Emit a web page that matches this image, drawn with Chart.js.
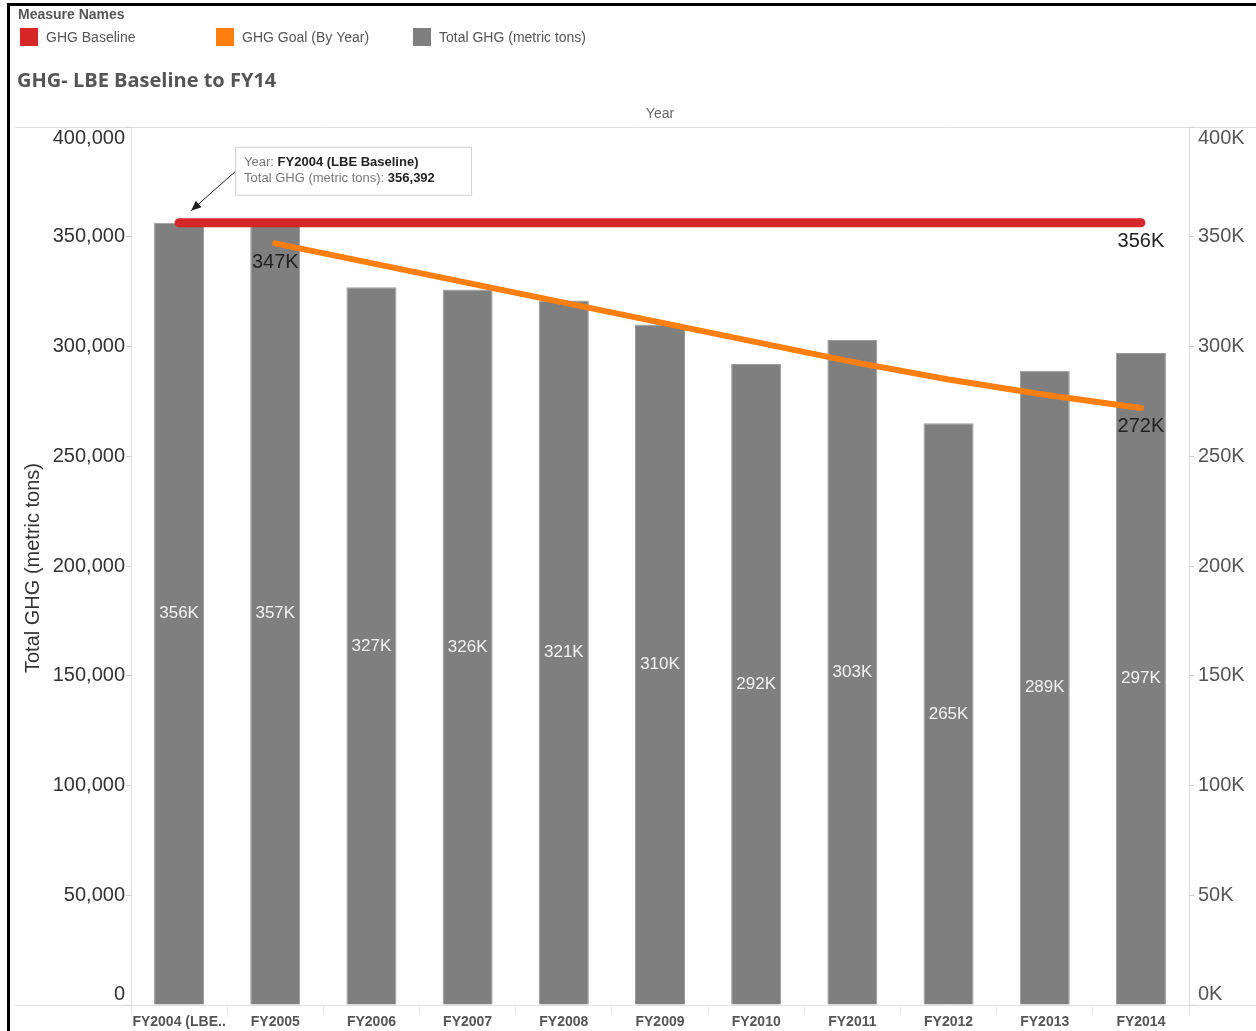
<!DOCTYPE html>
<html>
<head>
<meta charset="utf-8">
<title>GHG- LBE Baseline to FY14</title>
<script src="https://cdn.jsdelivr.net/npm/chart.js@4.4.1/dist/chart.umd.min.js"></script>
<style>
  html, body { margin: 0; padding: 0; background: #fff; }
  #wrap { width: 1256px; height: 1031px; position: relative; }
</style>
</head>
<body>
<div id="wrap"><canvas id="ghgChart" width="1256" height="1031"></canvas></div>
<script>
// data
const categories = ['FY2004 (LBE Baseline)', 'FY2005', 'FY2006', 'FY2007', 'FY2008', 'FY2009',
                    'FY2010', 'FY2011', 'FY2012', 'FY2013', 'FY2014'];
const tickLabels = ['FY2004 (LBE..', 'FY2005', 'FY2006', 'FY2007', 'FY2008', 'FY2009',
                    'FY2010', 'FY2011', 'FY2012', 'FY2013', 'FY2014'];
const totalGhg = [356392, 357000, 327000, 326000, 321000, 310000, 292000, 303000, 265000, 289000, 297000];
const ghgBaseline = [356392, 356392, 356392, 356392, 356392, 356392, 356392, 356392, 356392, 356392, 356392];
const ghgGoal = [null, 347000, 338000, 329000, 320000, 311000, 302000, 293000, 285000, 278000, 272000];
const yTicks = [0, 50000, 100000, 150000, 200000, 250000, 300000, 350000, 400000];
const legendNames = ['GHG Baseline', 'GHG Goal (By Year)', 'Total GHG (metric tons)'];

const RED = '#d62728';
const ORANGE = '#ff7f0e';
const GRAY = '#7f7f7f';
const LINE = '#dedede';
const SANS = '"Liberation Sans", Arial, sans-serif';

const fmtK = v => Math.round(v / 1000) + 'K';
const fmtFull = v => v.toLocaleString('en-US');
const clampY = (py, a) => Math.min(Math.max(py, a.top + 11), a.bottom - 11);

const decorations = {
    id: 'decorations',
    beforeDraw(chart) {
        const ctx = chart.ctx;
        const a = chart.chartArea;
        ctx.save();
        ctx.fillStyle = '#fff';
        ctx.fillRect(0, 0, chart.width, chart.height);

        // frame lines
        ctx.strokeStyle = LINE;
        ctx.lineWidth = 1;
        ctx.beginPath();
        ctx.moveTo(15, a.top + 0.5); ctx.lineTo(chart.width, a.top + 0.5);
        ctx.moveTo(15, a.bottom + 0.5); ctx.lineTo(chart.width, a.bottom + 0.5);
        ctx.moveTo(a.left + 0.5, a.top); ctx.lineTo(a.left + 0.5, a.bottom + 8);
        ctx.moveTo(a.right + 0.5, a.top); ctx.lineTo(a.right + 0.5, a.bottom + 10);
        ctx.stroke();

        // black outer border (top + left)
        ctx.fillStyle = '#000';
        ctx.fillRect(7, 3, chart.width - 7, 3);
        ctx.fillRect(7, 3, 3, chart.height - 3);

        // legend
        ctx.fillStyle = '#555';
        ctx.font = 'bold 14px ' + SANS;
        ctx.textBaseline = 'middle';
        ctx.textAlign = 'left';
        ctx.fillText('Measure Names', 18, 15);
        const colors = [RED, ORANGE, GRAY];
        const xs = [20, 216, 413];
        ctx.font = '14px ' + SANS;
        legendNames.forEach((name, i) => {
            ctx.fillStyle = colors[i];
            ctx.fillRect(xs[i], 28, 18, 18);
            ctx.fillStyle = '#555';
            ctx.fillText(name, xs[i] + 26, 38);
        });

        // title
        ctx.fillStyle = '#555';
        ctx.font = 'bold 20px "Open Sans", "DejaVu Sans", sans-serif';
        ctx.fillText('GHG- LBE Baseline to FY14', 17, 81);

        // "Year" header
        ctx.font = '14px ' + SANS;
        ctx.textAlign = 'center';
        ctx.fillStyle = '#666';
        ctx.fillText('Year', (a.left + a.right) / 2, 114);
        ctx.restore();
    },
    afterDraw(chart) {
        const ctx = chart.ctx;
        const a = chart.chartArea;
        const yL = chart.scales.y;
        const yR = chart.scales.y2;
        ctx.save();

        // axis tick labels (kept inside plot band like the original)
        ctx.font = '20px ' + SANS;
        ctx.textBaseline = 'middle';
        yTicks.forEach(v => {
            ctx.fillStyle = '#333';
            ctx.textAlign = 'right';
            ctx.fillText(fmtFull(v), a.left - 6, clampY(yL.getPixelForValue(v), a));
            ctx.fillStyle = '#555';
            ctx.textAlign = 'left';
            ctx.fillText(fmtK(v), a.right + 9, clampY(yR.getPixelForValue(v), a));
        });

        // left axis title
        ctx.save();
        ctx.translate(33, (a.top + a.bottom) / 2 + 2);
        ctx.rotate(-Math.PI / 2);
        ctx.textAlign = 'center';
        ctx.fillStyle = '#333';
        ctx.font = '20px ' + SANS;
        ctx.fillText('Total GHG (metric tons)', 0, 0);
        ctx.restore();

        // bar value labels (white, centered in bar)
        const barMeta = chart.getDatasetMeta(2);
        ctx.font = '17px ' + SANS;
        ctx.fillStyle = '#f2f2f2';
        ctx.textAlign = 'center';
        barMeta.data.forEach((bar, i) => {
            ctx.fillText(fmtK(totalGhg[i]), bar.x, (bar.y + bar.base) / 2);
        });

        // line end labels
        ctx.font = '20px ' + SANS;
        ctx.fillStyle = '#222';
        const baseMeta = chart.getDatasetMeta(0);
        const goalMeta = chart.getDatasetMeta(1);
        const lastB = baseMeta.data[ghgBaseline.length - 1];
        ctx.fillText(fmtK(ghgBaseline[ghgBaseline.length - 1]), lastB.x, lastB.y + 19);
        const firstG = goalMeta.data[1];
        ctx.fillText(fmtK(ghgGoal[1]), firstG.x, firstG.y + 19);
        const lastG = goalMeta.data[ghgGoal.length - 1];
        ctx.fillText(fmtK(ghgGoal[ghgGoal.length - 1]), lastG.x, lastG.y + 19);

        // annotation box for FY2004
        const b0 = barMeta.data[0];
        const tipX = b0.x + 12, tipY = b0.y - 12;
        const bx = tipX + 44, by = tipY - 64;
        ctx.fillStyle = '#fff';
        ctx.fillRect(bx, by, 236, 48);
        ctx.strokeStyle = '#cfcfcf';
        ctx.lineWidth = 1;
        ctx.strokeRect(bx + 0.5, by + 0.5, 236, 48);
        ctx.textAlign = 'left';
        ctx.textBaseline = 'middle';
        const line1 = [['Year: ', '13px', '#777'], [categories[0], 'bold 13px', '#222']];
        const line2 = [['Total GHG (metric tons): ', '13px', '#777'], [fmtFull(totalGhg[0]), 'bold 13px', '#222']];
        [[line1, by + 16], [line2, by + 32]].forEach(([parts, ty]) => {
            let tx = bx + 9;
            parts.forEach(([t, f, c]) => {
                ctx.font = f + ' ' + SANS;
                ctx.fillStyle = c;
                ctx.fillText(t, tx, ty);
                tx += ctx.measureText(t).width;
            });
        });
        // arrow
        ctx.strokeStyle = '#222';
        ctx.fillStyle = '#222';
        ctx.beginPath();
        ctx.moveTo(bx, by + 25);
        ctx.lineTo(tipX, tipY);
        ctx.stroke();
        const ang = Math.atan2(tipY - (by + 25), tipX - bx);
        ctx.beginPath();
        ctx.moveTo(tipX, tipY);
        ctx.lineTo(tipX - 11 * Math.cos(ang - 0.4), tipY - 11 * Math.sin(ang - 0.4));
        ctx.lineTo(tipX - 11 * Math.cos(ang + 0.4), tipY - 11 * Math.sin(ang + 0.4));
        ctx.closePath();
        ctx.fill();
        ctx.restore();
    }
};

new Chart(document.getElementById('ghgChart'), {
    data: {
        labels: tickLabels,
        datasets: [
            {
                type: 'line',
                label: legendNames[0],
                data: ghgBaseline,
                borderColor: RED,
                borderWidth: 9,
                borderCapStyle: 'round',
                pointRadius: 0,
                tension: 0,
                yAxisID: 'y',
                order: 1
            },
            {
                type: 'line',
                label: legendNames[1],
                data: ghgGoal,
                borderColor: ORANGE,
                borderWidth: 6,
                borderCapStyle: 'round',
                borderJoinStyle: 'round',
                pointRadius: 0,
                tension: 0,
                yAxisID: 'y',
                order: 2
            },
            {
                type: 'bar',
                label: legendNames[2],
                data: totalGhg,
                backgroundColor: GRAY,
                borderColor: '#9a9a9a',
                borderWidth: 1,
                categoryPercentage: 1,
                barPercentage: 0.52,
                yAxisID: 'y',
                order: 3
            }
        ]
    },
    options: {
        responsive: false,
        animation: false,
        layout: { padding: { top: 127, left: 0, right: 0, bottom: 0 } },
        plugins: {
            legend: { display: false },
            tooltip: { enabled: false }
        },
        scales: {
            x: {
                afterFit: s => { s.height = 26; },
                grid: { offset: true, drawOnChartArea: false, tickLength: 9, color: '#e2e2e2' },
                border: { display: false },
                ticks: {
                    autoSkip: false,
                    maxRotation: 0,
                    padding: 0,
                    color: '#555',
                    font: { family: '"Liberation Sans Narrow", "Liberation Sans", Arial, sans-serif', size: 14, weight: 'bold' }
                }
            },
            y: {
                position: 'left',
                min: 0,
                max: 400000,
                afterFit: s => { s.width = 131; },
                ticks: { stepSize: 50000, display: false },
                grid: { drawOnChartArea: false, tickLength: 5, color: '#cccccc' },
                border: { display: false }
            },
            y2: {
                position: 'right',
                min: 0,
                max: 400000,
                afterFit: s => { s.width = 67; },
                ticks: { stepSize: 50000, display: false },
                grid: { drawOnChartArea: false, tickLength: 5, color: '#cccccc' },
                border: { display: false }
            }
        }
    },
    plugins: [decorations]
});
</script>
</body>
</html>
